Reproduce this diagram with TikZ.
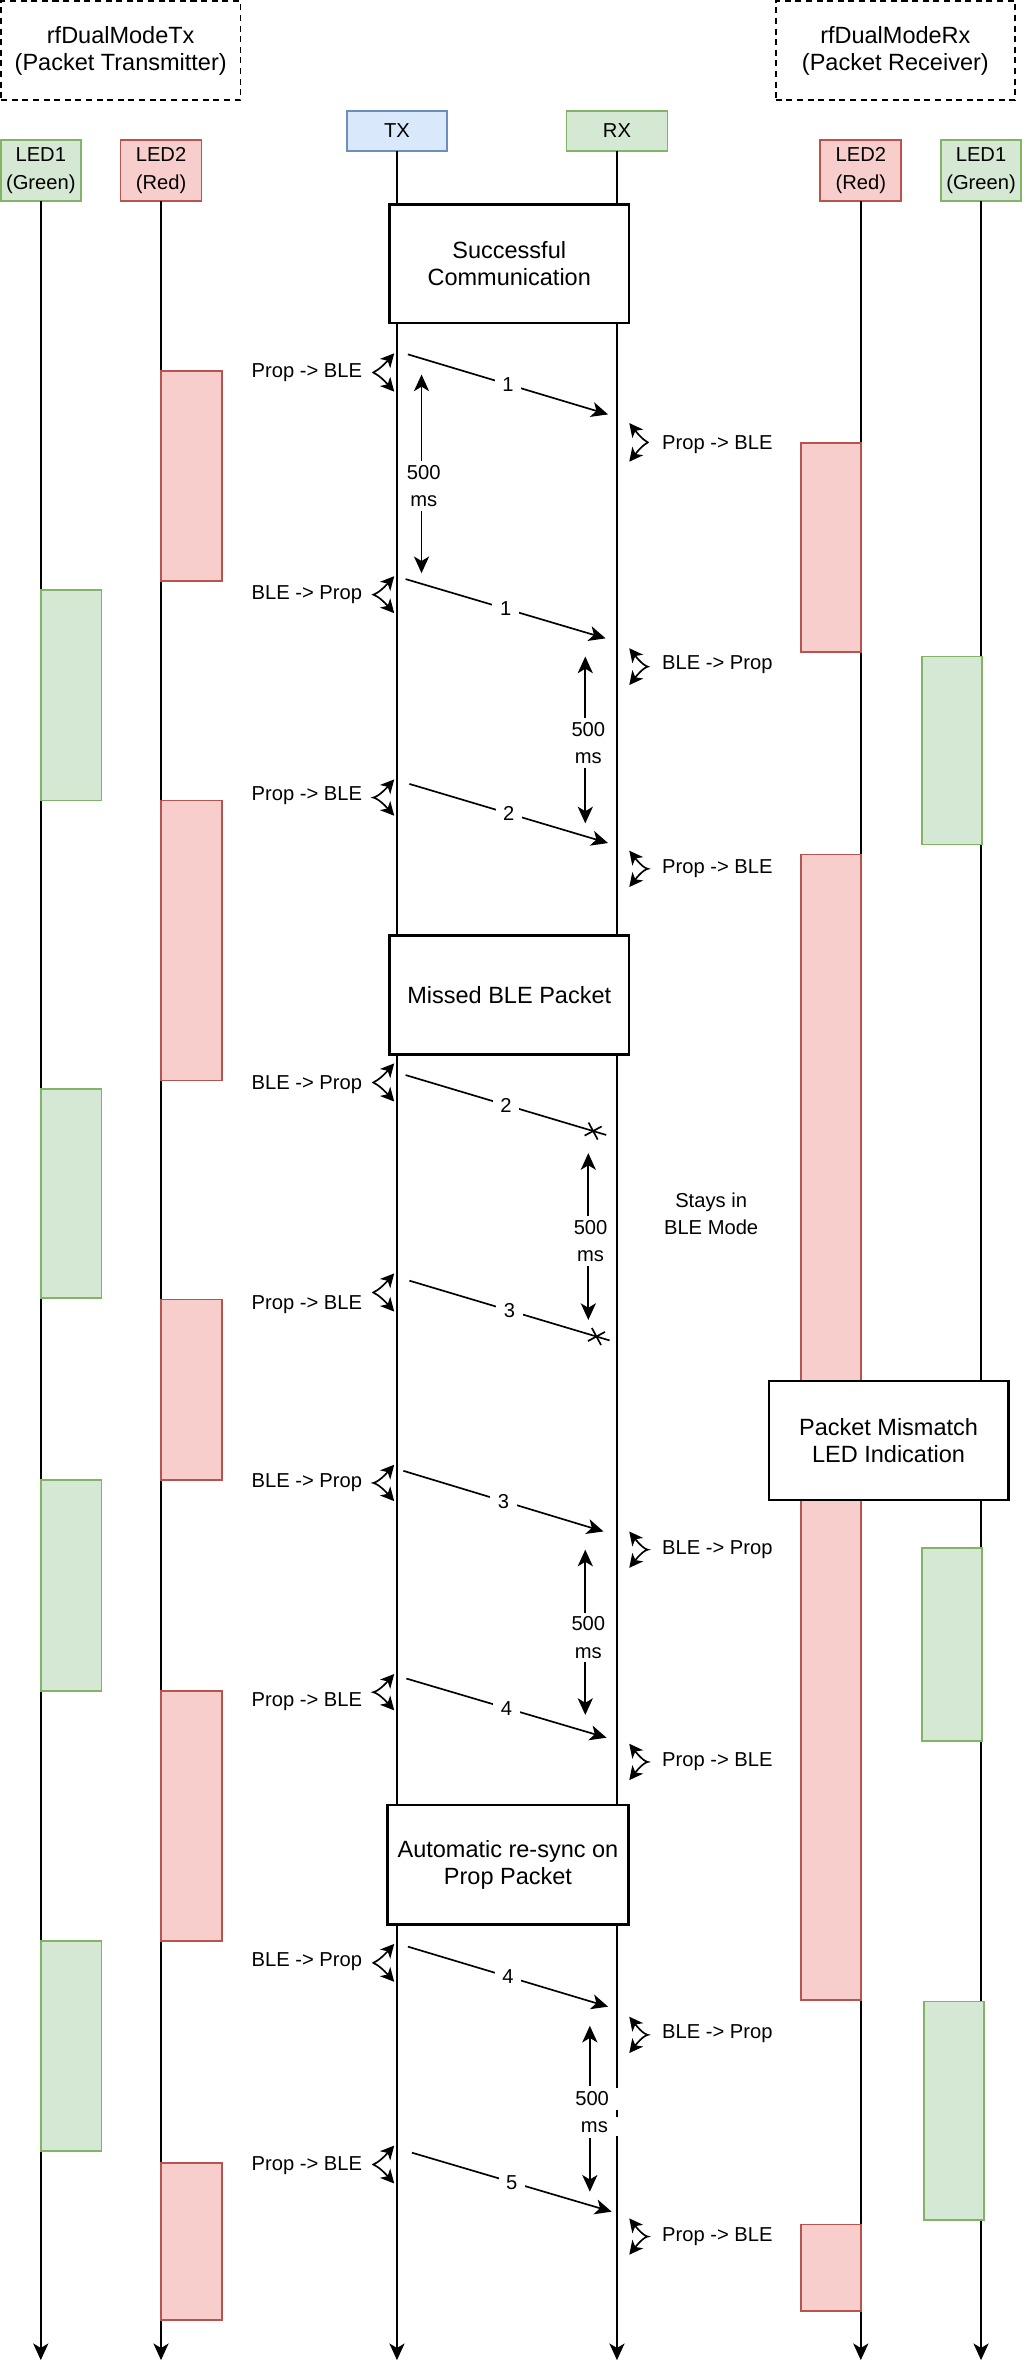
\documentclass[tikz,border=0pt]{standalone}
\usepackage{fontspec}
\setmainfont{Liberation Sans}
\usetikzlibrary{arrows.meta,calc,decorations.markings}
\definecolor{bluefill}{HTML}{DAE8FC}
\definecolor{bluedraw}{HTML}{6C8EBF}
\definecolor{greenfill}{HTML}{D5E8D4}
\definecolor{greendraw}{HTML}{82B366}
\definecolor{redfill}{HTML}{F8CECC}
\definecolor{reddraw}{HTML}{B85450}
\newcommand{\mylbl}{\fontsize{13.3}{18}\selectfont}
\newcommand{\mybig}{\fontsize{15.5}{18}\selectfont}
\tikzset{
  lifeline/.style={line width=1.1pt, -{Stealth[length=11pt,width=10pt,inset=3pt]}},
  msg/.style={line width=1.1pt, -{Stealth[length=11pt,width=10pt,inset=3pt]}},
  lost/.style={line width=1.1pt, postaction={decorate},
    decoration={markings, mark=at position 1 with {\draw[line width=1.1pt] (-13.5pt,-4.5pt)--(-4.5pt,4.5pt) (-13.5pt,4.5pt)--(-4.5pt,-4.5pt);}}},
  dur/.style={line width=1.1pt, {Stealth[length=11pt,width=10pt,inset=3pt]}-{Stealth[length=11pt,width=10pt,inset=3pt]}},
  switch/.style={line width=1.1pt, {Stealth[length=9pt,width=9pt,inset=2.5pt]}-{Stealth[length=9pt,width=9pt,inset=2.5pt]}},
  num/.style={fill=white, inner xsep=5pt, inner ysep=2.5pt, font=\mylbl, align=center},
  swlbl/.style={inner sep=0pt, font=\mylbl},
  secbox/.style={draw, line width=1.6pt, fill=white, inner sep=0pt, outer sep=0pt, align=center, font=\mybig},
  hdr/.style={draw, line width=1.1pt, dash pattern=on 4pt off 3pt, inner sep=0pt, outer sep=0pt, align=center, font=\mybig, minimum width=157.8pt, minimum height=65.3pt},
  headbox/.style={draw, line width=1.1pt, inner sep=0pt, outer sep=0pt, align=center, font=\mylbl},
  ledred/.style={draw=reddraw, fill=redfill, line width=1.1pt},
  ledgreen/.style={draw=greendraw, fill=greenfill, line width=1.1pt},
}
\newcommand{\swl}[5]{%
  \coordinate (#1t) at (260,#2);
  \coordinate (#1b) at (260,#3);
  \draw[switch] (#1t) .. controls ($(#1t)+(-17,19)$) and ($(#1b)+(-17,-19)$) .. (#1b);
  \node[swlbl, anchor=east] (#1l) at (239,#4) {#5};
}
\newcommand{\swr}[5]{%
  \coordinate (#1t) at (415,#2);
  \coordinate (#1b) at (415,#3);
  \draw[switch] (#1t) .. controls ($(#1t)+(15,19)$) and ($(#1b)+(15,-19)$) .. (#1b);
  \node[swlbl, anchor=west] (#1l) at (436.5,#4) {#5};
}
\begin{document}
\begin{tikzpicture}[x=1pt, y=-1pt, font=\mylbl]
\useasboundingbox (0,0) rectangle (674,1568.3);
\coordinate (bot) at (0,1556.5);

% headers
\node[hdr] (hl) at (79.6,33.4) {rfDualModeTx\\(Packet Transmitter)};
\node[hdr] (hr) at (590.5,33.4) {rfDualModeRx\\(Packet Receiver)};

% participants
\node[headbox, draw=bluedraw, fill=bluefill, minimum width=66.2pt, minimum height=26.6pt] (tx) at (261.8,86.3) {TX};
\node[headbox, draw=greendraw, fill=greenfill, minimum width=66.6pt, minimum height=26.6pt] (rx) at (406.9,86.3) {RX};
\node[headbox, draw=greendraw, fill=greenfill, minimum width=52.6pt, minimum height=40pt] (l1l) at (26.9,112.5) {LED1\\(Green)};
\node[headbox, draw=reddraw, fill=redfill, minimum width=53.3pt, minimum height=40pt] (l2l) at (106.2,112.5) {LED2\\(Red)};
\node[headbox, draw=reddraw, fill=redfill, minimum width=53.4pt, minimum height=40pt] (l2r) at (567.7,112.5) {LED2\\(Red)};
\node[headbox, draw=greendraw, fill=greenfill, minimum width=52.6pt, minimum height=40pt] (l1r) at (647,112.5) {LED1\\(Green)};

% lifelines
\foreach \n in {tx,rx,l1l,l2l,l2r,l1r}{
  \draw[lifeline] (\n.south) -- (\n.south |- bot);
}

% LED activity bars
\draw[ledred] (106.2,244.6) rectangle (146.5,383);
\draw[ledred] (106.2,528) rectangle (146.5,712.5);
\draw[ledred] (106.2,857) rectangle (146.5,976);
\draw[ledred] (106.2,1115) rectangle (146.5,1280);
\draw[ledred] (106.2,1426.5) rectangle (146.5,1530);
\draw[ledgreen] (27,389) rectangle (67,528);
\draw[ledgreen] (27,718) rectangle (67,856);
\draw[ledgreen] (27,976) rectangle (67,1115);
\draw[ledgreen] (27,1280) rectangle (67,1418.6);
\draw[ledred] (528.3,292) rectangle (567.9,430);
\draw[ledred] (528.3,563.6) rectangle (567.9,1319);
\draw[ledred] (528.3,1467) rectangle (567.9,1524);
\draw[ledgreen] (608,433) rectangle (647.5,557);
\draw[ledgreen] (608,1021) rectangle (647.5,1148);
\draw[ledgreen] (609.5,1320) rectangle (649,1464);

% section boxes
\node[secbox, minimum width=158.1pt, minimum height=78.2pt] (s1) at (335.85,173.9) {Successful\\Communication};
\node[secbox, minimum width=158.1pt, minimum height=78.3pt] (s2) at (335.85,656.2) {Missed BLE Packet};
\node[secbox, minimum width=158pt, minimum height=78.4pt] (s3) at (586,950) {Packet Mismatch\\LED Indication};
\node[secbox, minimum width=158.9pt, minimum height=78.8pt] (s4) at (335,1229.9) {Automatic re-sync on\\Prop Packet};

% messages
\coordinate (m1s) at (269,233.7);   \coordinate (m1e) at (401,273.3);
\coordinate (m2s) at (267.5,381.9); \coordinate (m2e) at (399.4,421);
\coordinate (m3s) at (270,517);     \coordinate (m3e) at (401,556);
\coordinate (m4s) at (267.5,709);   \coordinate (m4e) at (399.8,748.5);
\coordinate (m5s) at (270,844.6);   \coordinate (m5e) at (402,884);
\coordinate (m6s) at (266,970);     \coordinate (m6e) at (398,1010);
\coordinate (m7s) at (268,1107);    \coordinate (m7e) at (400,1146);
\coordinate (m8s) at (269,1283.8);  \coordinate (m8e) at (401,1323.4);
\coordinate (m9s) at (271.7,1419.7);\coordinate (m9e) at (403.4,1458.6);
\draw[msg] (m1s) -- node[num] (n1) {1} (m1e);
\draw[msg] (m2s) -- node[num] (n2) {1} (m2e);
\draw[msg] (m3s) -- node[num] (n3) {2} (m3e);
\draw[lost] (m4s) -- node[num] (n4) {2} (m4e);
\draw[lost] (m5s) -- node[num] (n5) {3} (m5e);
\draw[msg] (m6s) -- node[num] (n6) {3} (m6e);
\draw[msg] (m7s) -- node[num] (n7) {4} (m7e);
\draw[msg] (m8s) -- node[num] (n8) {4} (m8e);
\draw[msg] (m9s) -- node[num] (n9) {5} (m9e);

% mode switches (TX side)
\swl{a1}{233}{258.3}{246}{Prop -> BLE}
\swl{a2}{380}{404.4}{392.4}{BLE -> Prop}
\swl{a3}{514}{538}{525}{Prop -> BLE}
\swl{a4}{701.3}{726.5}{715.5}{BLE -> Prop}
\swl{a5}{839.8}{865}{860.6}{Prop -> BLE}
\swl{a6}{966}{990}{978}{BLE -> Prop}
\swl{a7}{1104}{1128}{1122}{Prop -> BLE}
\swl{a8}{1282}{1307}{1294}{BLE -> Prop}
\swl{a9}{1415}{1440}{1428}{Prop -> BLE}
% mode switches (RX side)
\swr{b1}{279}{304.5}{293.5}{Prop -> BLE}
\swr{b2}{427.5}{451.8}{438.6}{BLE -> Prop}
\swr{b3}{561}{585}{573}{Prop -> BLE}
\swr{b4}{1010}{1034}{1022}{BLE -> Prop}
\swr{b5}{1150}{1174}{1162}{Prop -> BLE}
\swr{b6}{1330}{1354}{1341}{BLE -> Prop}
\swr{b7}{1463}{1487}{1475}{Prop -> BLE}

% 500 ms intervals
\coordinate (d1t) at (278,247);   \coordinate (d1b) at (278,378);
\coordinate (d2t) at (386,433);   \coordinate (d2b) at (386,543);
\coordinate (d3t) at (388,760.5); \coordinate (d3b) at (388,870.5);
\coordinate (d4t) at (386,1022);  \coordinate (d4b) at (386,1131);
\coordinate (d5t) at (389,1336);  \coordinate (d5b) at (389,1445.4);
\draw[dur] (d1t) -- (d1b);
\draw[dur] (d2t) -- (d2b);
\draw[dur] (d3t) -- (d3b);
\draw[dur] (d4t) -- (d4b);
\draw[dur] (d5t) -- (d5b);
\node[num] (t1) at (279.5,320.5) {500\\ms};
\node[num] (t2) at (388,490) {500\\ms};
\node[num] (t3) at (389.5,818.4) {500\\ms};
\node[num] (t4) at (388,1080) {500\\ms};
\fill[white] (385,1376) rectangle (393,1410);
\node[num, inner xsep=7pt] (t5a) at (390.5,1384) {500};
\node[num, inner xsep=7pt] (t5b) at (392,1402.6) {ms};

% note
\node[align=center, font=\mylbl] (stay) at (469,800.5) {Stays in\\BLE Mode};
\end{tikzpicture}
\end{document}
